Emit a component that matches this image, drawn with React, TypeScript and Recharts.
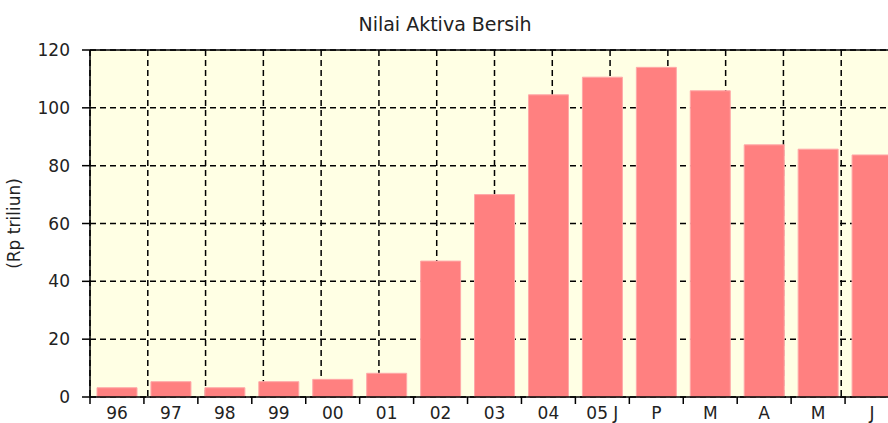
import { BarChart, Bar, XAxis, YAxis, CartesianGrid, ReferenceLine } from 'recharts'

const categories = ['96', '97', '98', '99', '00', '01', '02', '03', '04', '05 J', 'P', 'M', 'A', 'M', 'J']
const nilaiAktiva = [3.2, 5.3, 3.2, 5.3, 6.1, 8.2, 47, 70, 104.5, 110.6, 114, 105.9, 87.2, 85.7, 83.7]
const yTicks = [0, 20, 40, 60, 80, 100, 120]
// batas antar kategori, untuk garis grid vertikal
const batas = [0, 1, 2, 3, 4, 5, 6, 7, 8, 9, 10, 11, 12, 13, 14, 15]

const data = categories.map((name, i) => ({ name, nilai: nilaiAktiva[i] }))

const font = 'DejaVu Sans'

const XTick = (props: any) => {
  const { x, y, payload } = props
  const half = payload.offset ?? 27
  return (
    <g>
      <line x1={x - half} x2={x - half} y1={y - 10} y2={y - 3} stroke="#000" strokeWidth={1.5} />
      <text x={x} y={y} dy="0.71em" textAnchor="middle" fill="#222" fontSize={17} fontFamily={font}>
        {payload.value}
      </text>
    </g>
  )
}

export default function App() {
  return (
    <div style={{ position: 'fixed', left: 0, top: 0, width: 888, height: 423, overflow: 'hidden', background: '#fff' }}>
      <div
        style={{
          position: 'absolute', top: 14, left: 0, width: 890, textAlign: 'center',
          fontFamily: font, fontSize: 19, lineHeight: '20px', color: '#222',
        }}
      >
        Nilai Aktiva Bersih
      </div>
      <BarChart width={900} height={423} data={data} margin={{ top: 50, right: 1, bottom: 0, left: 0 }} barCategoryGap="13%">
        <CartesianGrid
          xAxisId="g"
          stroke="#000"
          strokeWidth={1.5}
          strokeDasharray="6 4"
          fill="#FFFFE4"
          fillOpacity={1}
        />
        <XAxis xAxisId="g" type="number" domain={[0, 15]} ticks={batas} hide />
        <XAxis
          dataKey="name"
          height={26}
          tickLine={false}
          tickSize={7}
          tickMargin={3}
          axisLine={{ stroke: '#000', strokeWidth: 1.5 }}
          tick={<XTick />}
          interval={0}
        />
        <YAxis
          width={90}
          domain={[0, 120]}
          ticks={yTicks}
          tickSize={8}
          tickMargin={12}
          axisLine={{ stroke: '#000', strokeWidth: 1.5 }}
          tickLine={{ stroke: '#000', strokeWidth: 1.5 }}
          tick={{ fill: '#222', fontSize: 17, fontFamily: font }}
          label={{
            value: '(Rp triliun)', angle: -90, position: 'insideLeft', offset: 14,
            style: { textAnchor: 'middle', fill: '#222', fontSize: 17, fontFamily: font },
          }}
        />
        <ReferenceLine y={120} stroke="#000" strokeWidth={1.5} />
        <Bar dataKey="nilai" fill="#FF8080" stroke="#FFA8A8" strokeWidth={1} isAnimationActive={false} />
      </BarChart>
    </div>
  )
}
